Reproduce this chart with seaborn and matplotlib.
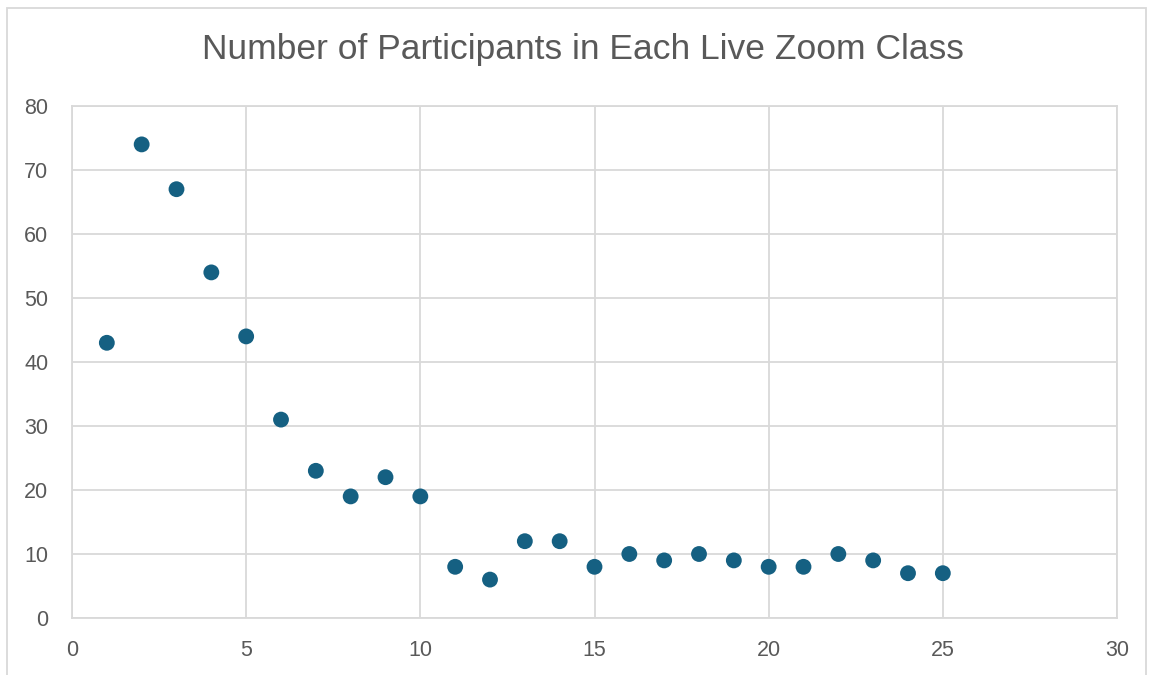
import matplotlib
matplotlib.use("Agg")
import matplotlib.pyplot as plt
import seaborn as sns
import pandas as pd
from matplotlib.patches import Rectangle

class_number = list(range(1, 26))
participants = [43, 74, 67, 54, 44, 31, 23, 19, 22, 19, 8, 6, 12, 12, 8, 10, 9, 10, 9, 8, 8, 10, 9, 7, 7]
x_ticks = [0, 5, 10, 15, 20, 25, 30]
y_ticks = [0, 10, 20, 30, 40, 50, 60, 70, 80]
title = "Number of Participants in Each Live Zoom Class"

df = pd.DataFrame({"cls": class_number, "n": participants})

sns.set_theme(style="white")
plt.rcParams['font.family'] = ['Liberation Sans', 'DejaVu Sans']

fig = plt.figure(figsize=(11.49, 6.75), dpi=100)
ax = fig.add_axes([72/1149, 1-618/675, (1117-72)/1149, (618-106)/675])

sns.scatterplot(data=df, x="cls", y="n", ax=ax, color="#156082", s=130,
                edgecolor="none", zorder=3)

ax.set_xlim(0, 30)
ax.set_ylim(0, 80)
ax.set_xticks(x_ticks)
ax.set_yticks(y_ticks)
ax.grid(True, color="#d9d9d9", linewidth=1.3)
for side in ["top", "right", "left", "bottom"]:
    ax.spines[side].set_color("#d9d9d9")
    ax.spines[side].set_linewidth(1.3)
ax.tick_params(axis="both", length=0, labelsize=15.5, labelcolor="#595959")
ax.tick_params(axis="x", pad=16)
ax.tick_params(axis="y", pad=17)
ax.set_xlabel("")
ax.set_ylabel("")

fig.text(583/1149, 1-50/675, title, ha="center", va="center", fontsize=25.5, color="#595959")

fig.patches.append(Rectangle((7/1149, -0.05), (1146-7)/1149, 1-8/675+0.05,
                             transform=fig.transFigure, fill=False,
                             edgecolor="#d9d9d9", linewidth=1.3))

fig.savefig("out.png", dpi=100)
